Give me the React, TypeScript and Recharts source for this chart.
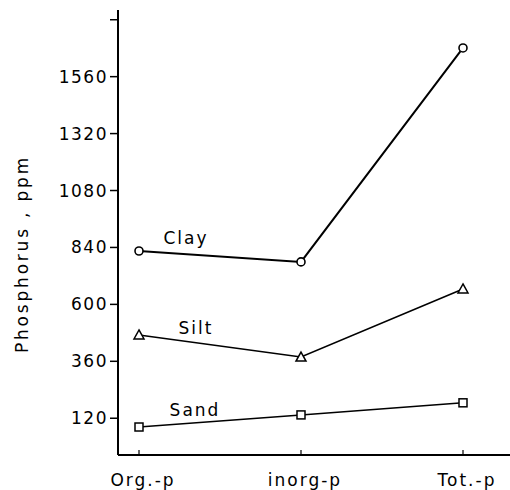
import React from 'react';
import { LineChart, Line, XAxis, YAxis } from 'recharts';

const categories = ['Org.-p', 'inorg-p', 'Tot.-p'];
const clay = [825, 779, 1681];
const silt = [471, 378, 665];
const sand = [83, 134, 185];
const yTicks = [120, 360, 600, 840, 1080, 1320, 1560, 1800];
const yTickLabels: Record<number, string> = { 120: '120', 360: '360', 600: '600', 840: '840', 1080: '1080', 1320: '1320', 1560: '1560', 1800: '' };
const seriesNames = { clay: 'Clay', silt: 'Silt', sand: 'Sand' };

const data = categories.map((c, i) => ({ cat: c, clay: clay[i], silt: silt[i], sand: sand[i] }));

const FONT = '"DejaVu Sans", sans-serif';

const circleDot = (p: any) => (
  <circle key={`c${p.index}`} cx={p.cx} cy={p.cy} r={4} fill="#fff" stroke="#000" strokeWidth={1.6} />
);
const triDot = (p: any) => (
  <path key={`t${p.index}`} d={`M${p.cx},${p.cy - 5} L${p.cx + 5},${p.cy + 4} L${p.cx - 5},${p.cy + 4} Z`} fill="#fff" stroke="#000" strokeWidth={1.5} />
);
const sqDot = (p: any) => (
  <rect key={`s${p.index}`} x={p.cx - 4} y={p.cy - 4} width={8} height={8} fill="#fff" stroke="#000" strokeWidth={1.5} />
);

const makeLabel = (name: string, dx: number, dy: number) => (p: any) =>
  p.index === 0 ? (
    <text key={`l${name}`} x={p.x + dx} y={p.y + dy} textAnchor="middle" dominantBaseline="central" fontFamily={FONT} fontSize={17} letterSpacing={2} fill="#000">
      {name}
    </text>
  ) : null;

const XTick = (p: any) => (
  <g>
    <line x1={p.x} x2={p.x} y1={p.y - 5} y2={p.y} stroke="#000" strokeWidth={1.2} />
    <text x={p.x + 4} y={p.y + 25} textAnchor="middle" dominantBaseline="central" fontFamily={FONT} fontSize={17} letterSpacing={2} fill="#000">
      {p.payload.value}
    </text>
  </g>
);

const YLabel = () => (
  <text x={22} y={254} transform={`rotate(-90 22 254)`} textAnchor="middle" dominantBaseline="central" fontFamily={FONT} fontSize={17} letterSpacing={2.8} fill="#000">
    Phosphorus , ppm
  </text>
);

export default function App() {
  return (
    <div style={{ position: 'absolute', left: 0, top: 0, background: '#fff' }}>
      <LineChart width={510} height={490} data={data} margin={{ top: 10, right: 0, left: 0, bottom: 5 }}>
        <XAxis
          dataKey="cat"
          height={30}
          padding={{ left: 21, right: 47 }}
          axisLine={{ stroke: '#000', strokeWidth: 2 }}
          tickLine={false}
          tickSize={0}
          tickMargin={0}
          tick={<XTick />}
          interval={0}
        />
        <YAxis
          width={118}
          type="number"
          domain={[-35, 1841]}
          ticks={yTicks}
          tickFormatter={(v: number) => yTickLabels[v] ?? String(v)}
          axisLine={{ stroke: '#000', strokeWidth: 2 }}
          tickLine={{ stroke: '#000', strokeWidth: 1.5 }}
          tickSize={8}
          tickMargin={2}
          tick={{ fill: '#000', fontFamily: FONT, fontSize: 17, letterSpacing: 1.5 }}
          interval={0}
          label={<YLabel />}
        />
        <Line dataKey="clay" name={seriesNames.clay} stroke="#000" strokeWidth={2} dot={circleDot} isAnimationActive={false} label={makeLabel(seriesNames.clay, 47, -13)} />
        <Line dataKey="silt" name={seriesNames.silt} stroke="#000" strokeWidth={1.6} dot={triDot} isAnimationActive={false} label={makeLabel(seriesNames.silt, 57, -7)} />
        <Line dataKey="sand" name={seriesNames.sand} stroke="#000" strokeWidth={1.5} dot={sqDot} isAnimationActive={false} label={makeLabel(seriesNames.sand, 56, -17)} />
      </LineChart>
    </div>
  );
}
